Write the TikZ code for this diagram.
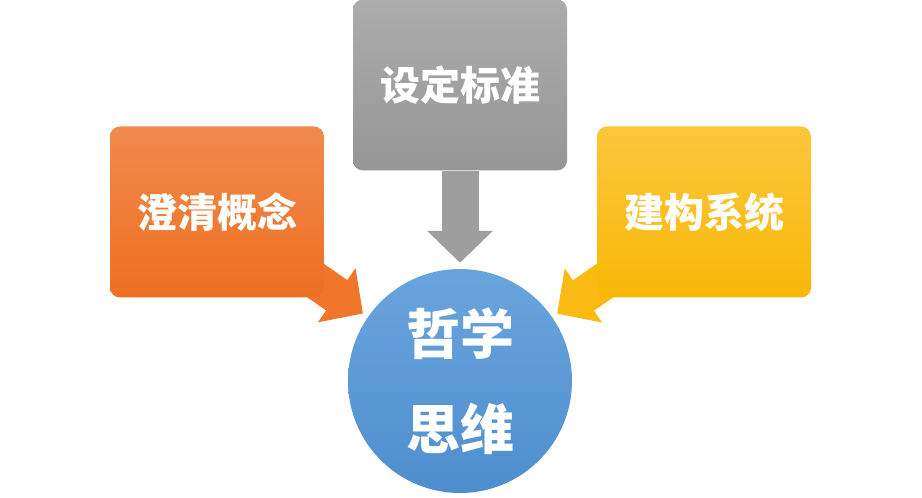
\documentclass[tikz,border=0pt]{standalone}
\usepackage{fontspec}
\newfontfamily\cjk{Noto Sans CJK SC}
\usetikzlibrary{positioning,arrows.meta,backgrounds}

\begin{document}
\begin{tikzpicture}[node distance=2cm,on grid,
    box/.style={rounded corners=10pt,minimum width=214pt,minimum height=171pt,text=white,
      font=\cjk\bfseries\fontsize{40pt}{46pt}\selectfont},
    hub/.style={circle,minimum size=224pt,text=white,align=center,
      font=\cjk\bfseries\fontsize{54pt}{95pt}\selectfont},
    feed/.style={line width=37pt,-{Triangle[length=32pt 0,width=64pt 0]},shorten >=6pt}]
    \useasboundingbox (0,0) rectangle (922pt,498pt);
    \node[hub,top color={rgb,255:red,106;green,164;blue,221},bottom color={rgb,255:red,78;green,142;blue,206}] (phil) at (460pt,117pt) {哲学\\思维};
    \node[box,top color={rgb,255:red,172;green,172;blue,172},bottom color={rgb,255:red,150;green,150;blue,150}] (std) [above=296pt of phil] {设定标准};
    \node[box,top color={rgb,255:red,240;green,138;blue,76},bottom color={rgb,255:red,238;green,112;blue,34}] (clar) [above left=169pt and 243pt of phil] {澄清概念};
    \node[box,top color={rgb,255:red,252;green,198;blue,60},bottom color={rgb,255:red,248;green,184;blue,8}] (sys) [above right=169pt and 244pt of phil] {建构系统};
    \begin{scope}[on background layer]
    \fill[white] (0,0) rectangle (922pt,498pt);
    \path (std) edge[feed,draw={rgb,255:red,158;green,158;blue,158}] (phil)
          (clar.center) edge[feed,draw={rgb,255:red,240;green,118;blue,44}] (phil)
          (sys.center) edge[feed,draw={rgb,255:red,250;green,186;blue,20}] (phil);
    \end{scope}
\end{tikzpicture}
\end{document}
